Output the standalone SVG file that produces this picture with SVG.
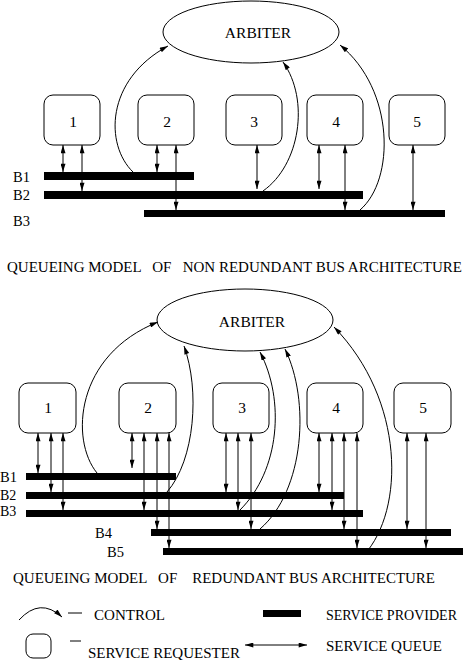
<svg xmlns="http://www.w3.org/2000/svg" width="474" height="660" viewBox="0 0 474 660">
<style>
text{font-family:"Liberation Serif","Times New Roman",serif;fill:#000}
.lbl{font-size:15.5px;text-anchor:middle}
.bl{font-size:14.5px}
.lg{font-size:15.5px}
.ttl{font-size:15px}
.box{fill:#fff;stroke:#000;stroke-width:1}
.arb{fill:#fff;stroke:#000;stroke-width:1}
.bus{fill:#000}
.q{stroke:#000;stroke-width:1;fill:none;marker-start:url(#ah);marker-end:url(#ah)}
.ctl{stroke:#000;stroke-width:1;fill:none;marker-end:url(#ah)}
</style>
<defs>
<marker id="ah" viewBox="0 0 10 6" refX="10" refY="3" markerWidth="9" markerHeight="5" markerUnits="userSpaceOnUse" orient="auto-start-reverse">
<path d="M0,0 L10,3 L0,6 z" fill="#000"/>
</marker>
</defs>

<!-- ===== Top: non redundant ===== -->
<g id="arbiter1"><ellipse class="arb" cx="251" cy="32" rx="88" ry="31"/><text class="lbl" x="258" y="38">ARBITER</text></g>
<g id="t-r1"><rect class="box" x="44" y="95" width="56" height="50" rx="9"/><text class="lbl" x="73" y="127">1</text></g>
<g id="t-r2"><rect class="box" x="138" y="95" width="56" height="50" rx="9"/><text class="lbl" x="167" y="127">2</text></g>
<g id="t-r3"><rect class="box" x="226" y="95" width="56" height="50" rx="9"/><text class="lbl" x="254" y="127">3</text></g>
<g id="t-r4"><rect class="box" x="307" y="95" width="56" height="50" rx="9"/><text class="lbl" x="336" y="127">4</text></g>
<g id="t-r5"><rect class="box" x="389" y="95" width="56" height="50" rx="9"/><text class="lbl" x="417" y="127">5</text></g>

<g id="t-connectors">
<path class="ctl" d="M133,172 C105,145 105,80 168,46"/>
<path class="ctl" d="M263,191 C300,165 310,100 283,62"/>
<path class="ctl" d="M360,210 C395,180 395,90 340,45"/>
<line class="q" x1="63" y1="145" x2="63" y2="172"/>
<line class="q" x1="82" y1="145" x2="82" y2="191"/>
<line class="q" x1="157" y1="145" x2="157" y2="172"/>
<line class="q" x1="176" y1="145" x2="176" y2="210"/>
<line class="q" x1="257" y1="145" x2="257" y2="189"/>
<line class="q" x1="319" y1="145" x2="319" y2="189"/>
<line class="q" x1="345" y1="145" x2="345" y2="210"/>
<line class="q" x1="413" y1="145" x2="413" y2="210"/>
</g>

<g id="t-B1"><rect class="bus" x="44" y="172" width="150" height="8"/><text class="bl" x="13" y="182">B1</text></g>
<g id="t-B2"><rect class="bus" x="44" y="191" width="319" height="8"/><text class="bl" x="13" y="200">B2</text></g>
<g id="t-B3"><rect class="bus" x="144" y="210" width="301" height="7"/><text class="bl" x="13" y="226">B3</text></g>

<text class="ttl" x="7" y="272" xml:space="preserve" textLength="455" lengthAdjust="spacingAndGlyphs">QUEUEING MODEL   OF   NON REDUNDANT BUS ARCHITECTURE</text>

<!-- ===== Bottom: redundant ===== -->
<g id="arbiter2"><ellipse class="arb" cx="245" cy="320" rx="88" ry="31"/><text class="lbl" x="252" y="327">ARBITER</text></g>
<g id="b-r1"><rect class="box" x="19" y="383" width="57" height="50" rx="9"/><text class="lbl" x="48" y="413">1</text></g>
<g id="b-r2"><rect class="box" x="119" y="383" width="57" height="50" rx="9"/><text class="lbl" x="148" y="413">2</text></g>
<g id="b-r3"><rect class="box" x="213" y="383" width="56" height="50" rx="9"/><text class="lbl" x="242" y="413">3</text></g>
<g id="b-r4"><rect class="box" x="307" y="383" width="56" height="50" rx="9"/><text class="lbl" x="336" y="413">4</text></g>
<g id="b-r5"><rect class="box" x="394" y="383" width="57" height="50" rx="9"/><text class="lbl" x="423" y="413">5</text></g>

<g id="b-connectors">
<path class="ctl" d="M97,473 C70,440 75,355 158,322"/>
<path class="ctl" d="M167,492 C195,460 200,390 184,346"/>
<path class="ctl" d="M240,510 C280,470 285,400 260,352"/>
<path class="ctl" d="M260,529 C305,490 310,400 285,349"/>
<path class="ctl" d="M364,555 C405,510 405,400 334,327"/>
<line class="q" x1="38" y1="433" x2="38" y2="473"/>
<line class="q" x1="51" y1="433" x2="51" y2="492"/>
<line class="q" x1="63" y1="433" x2="63" y2="510"/>
<line class="q" x1="132" y1="433" x2="132" y2="468"/>
<line class="q" x1="144" y1="433" x2="144" y2="510"/>
<line class="q" x1="157" y1="433" x2="157" y2="529"/>
<line class="q" x1="169" y1="433" x2="169" y2="548"/>
<line class="q" x1="226" y1="433" x2="226" y2="492"/>
<line class="q" x1="238" y1="433" x2="238" y2="510"/>
<line class="q" x1="251" y1="433" x2="251" y2="529"/>
<line class="q" x1="319" y1="433" x2="319" y2="492"/>
<line class="q" x1="332" y1="433" x2="332" y2="510"/>
<line class="q" x1="344" y1="433" x2="344" y2="529"/>
<line class="q" x1="357" y1="433" x2="357" y2="548"/>
<line class="q" x1="407" y1="433" x2="407" y2="529"/>
<line class="q" x1="426" y1="433" x2="426" y2="548"/>
</g>

<g id="b-B1"><rect class="bus" x="26" y="473" width="150" height="7"/><text class="bl" x="0" y="482">B1</text></g>
<g id="b-B2"><rect class="bus" x="26" y="492" width="318" height="7"/><text class="bl" x="0" y="500" style="font-size:14px">B2</text></g>
<g id="b-B3"><rect class="bus" x="26" y="510" width="337" height="7"/><text class="bl" x="0" y="516" style="font-size:14px">B3</text></g>
<g id="b-B4"><rect class="bus" x="151" y="529" width="300" height="7"/><text class="bl" x="95" y="538">B4</text></g>
<g id="b-B5"><rect class="bus" x="163" y="548" width="300" height="7"/><text class="bl" x="107" y="557">B5</text></g>

<text class="ttl" x="13" y="583" xml:space="preserve" textLength="422" lengthAdjust="spacingAndGlyphs">QUEUEING MODEL   OF    REDUNDANT BUS ARCHITECTURE</text>

<!-- ===== Legend ===== -->
<g id="legend-control">
<path class="ctl" d="M19,620 Q40,597 62,617"/>
<line x1="68" y1="613" x2="82" y2="613" stroke="#000" stroke-width="1"/>
<text class="lg" x="94" y="620" textLength="71" lengthAdjust="spacingAndGlyphs">CONTROL</text>
</g>
<g id="legend-provider">
<rect class="bus" x="263" y="610" width="38" height="7"/>
<text class="lg" x="326" y="620" textLength="131" lengthAdjust="spacingAndGlyphs">SERVICE PROVIDER</text>
</g>
<g id="legend-requester">
<rect class="box" x="26" y="634" width="25" height="24" rx="7"/>
<line x1="70" y1="641" x2="81" y2="641" stroke="#000" stroke-width="1"/>
<text class="lg" x="88" y="658" textLength="152" lengthAdjust="spacingAndGlyphs">SERVICE REQUESTER</text>
</g>
<g id="legend-queue">
<line class="q" x1="245" y1="645" x2="307" y2="645"/>
<text class="lg" x="326" y="651" textLength="116" lengthAdjust="spacingAndGlyphs">SERVICE QUEUE</text>
</g>
</svg>
